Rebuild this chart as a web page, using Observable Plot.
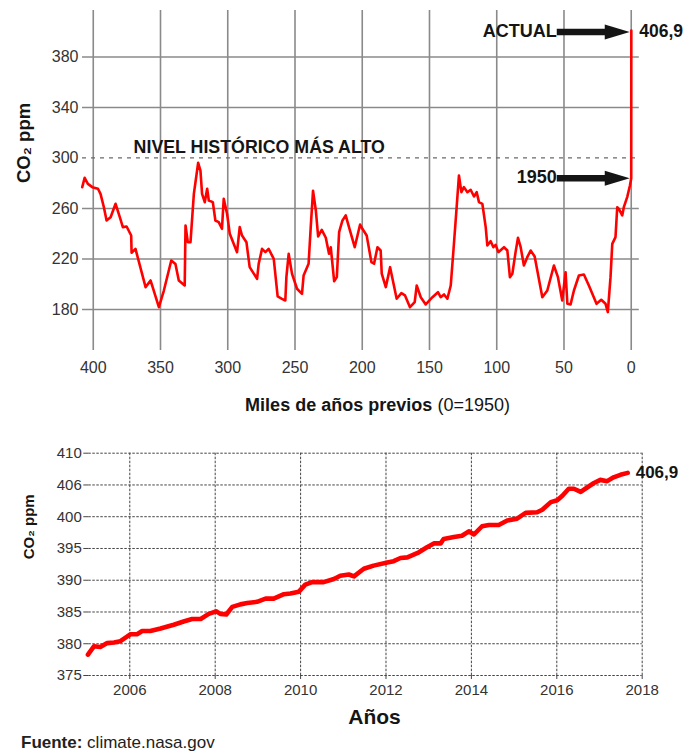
<!DOCTYPE html>
<html><head><meta charset="utf-8">
<script src="https://cdn.jsdelivr.net/npm/d3@7"></script>
<script src="https://cdn.jsdelivr.net/npm/@observablehq/plot@0.6"></script>
<style>
body{margin:0;background:#fff;font-family:"Liberation Sans",Arial,sans-serif;}
#wrap{width:684px;}
#wrap svg{display:block;}
.caption{font-size:17px;line-height:20px;color:#222;padding-left:21px;margin-top:3px;}
.caption b{color:#222;}
</style></head><body>
<div id="wrap"></div>
<script>
// ---- Top chart: ice-core CO2 (thousand years before 1950) ----
const iceAge = [408.2,406.4,404,400.7,396.5,394.6,392.1,390.1,387.1,383.4,380.2,378,375.2,371.8,371.5,368.6,361.1,357.4,351.2,347.5,342,338.9,336.4,332,331.4,329.7,327.7,325.2,322,320.3,319.1,317.1,315.3,314.1,311.1,309.2,306.7,304.3,303,300.5,298.5,293.1,291.1,289.4,286.1,283.7,278.2,277,274.5,272,269.6,265.8,262.9,259.7,257.2,256.4,254.7,252.2,248.5,244.8,243.6,239.9,238.3,236.6,234.5,232.8,230.1,227.1,224.7,223.4,220.9,218.9,217.2,214.7,212.3,209.8,205.6,201.6,199.9,196.7,193.2,191.2,188.7,186.3,185.5,182.5,179.3,174.4,170.9,168.2,164.5,161,159.5,156.5,152.8,147.8,143.7,141.7,139.2,136.7,134.2,132.2,129.8,128.1,126.3,124.4,121.8,119.4,116.9,114.9,113.2,110.7,108.2,107,104.5,102.5,100.8,98.8,94.6,92.1,90.2,88.4,86,84.2,82.2,79.8,77.3,74.8,71.8,66.1,62.4,57.5,54.5,51.3,48.8,47.5,45.1,42.6,38.9,35.2,31.5,25.8,22.3,19.1,17.4,15.4,14.1,11.7,10.4,9.2,6.7,5.5,3,1,0,-0.067];
const iceCO2 = [276.9,284.3,279.5,276.9,275.6,271.6,261,250.5,253,263.7,253,245.2,245.7,238.6,224.9,228,197.7,203,181.8,195,218.8,216,203,199,246.5,233.3,233.3,271.6,296.2,290,271.6,265,275.6,266.3,265,250.5,249.2,243.9,267.6,255.8,239.9,225.4,245.2,238.6,233.3,213.5,204.3,216.2,228,225.4,228,220.1,190.3,188.4,187.1,205.6,224.1,208.2,196.4,192.4,206.9,216.2,245.2,274,258.4,237.8,243.1,236.8,224.1,229.3,202.4,205.6,241.2,250.5,254.5,245,229.3,247.3,243.9,238.6,217.5,216.2,229.3,226.7,208.3,197.7,213.5,188.5,192.9,191.1,181.8,185.8,199,189.7,184,189.7,193.7,189.7,191.9,188.5,199,226.7,261,286.1,272.9,276.9,272.9,274.8,269.5,272.9,265,263.7,245.2,230.7,234.1,229.3,231.2,225.4,229.3,226.7,205.6,208.3,225.4,236.8,229.3,214.8,221.4,226.7,222,189.7,195,214.8,205.6,187.1,209.5,184.5,184,195,206.9,207.7,199,184.5,187.7,184.5,177.9,205.6,232,237.3,261,259.7,254.5,261,269,278,284,401];
const topXTicks = [400,350,300,250,200,150,100,50,0];
const topYTicks = [180,220,260,300,340,380];
const historicMax = 300;
const historicLabel = "NIVEL HISTÓRICO MÁS ALTO";

// ---- Bottom chart: recent CO2 (NASA) ----
const years = [2005.02,2005.16,2005.31,2005.47,2005.63,2005.78,2006.02,2006.17,2006.29,2006.48,2006.72,2007.03,2007.26,2007.46,2007.66,2007.85,2008.02,2008.12,2008.26,2008.4,2008.59,2008.75,2008.98,2009.18,2009.37,2009.61,2009.76,2009.96,2010.11,2010.27,2010.54,2010.78,2010.93,2011.13,2011.25,2011.48,2011.71,2012.03,2012.18,2012.34,2012.5,2012.77,2012.96,2013.12,2013.28,2013.35,2013.59,2013.78,2013.94,2014.06,2014.25,2014.41,2014.64,2014.84,2015.07,2015.27,2015.54,2015.66,2015.86,2016.01,2016.13,2016.28,2016.4,2016.56,2016.71,2016.87,2017.02,2017.18,2017.33,2017.49,2017.66];
const recentCO2 = [378.3,379.6,379.5,380.1,380.2,380.4,381.5,381.5,382,382,382.4,383,383.5,383.9,383.9,384.7,385.1,384.7,384.6,385.8,386.2,386.4,386.6,387.1,387.1,387.8,387.9,388.2,389.3,389.7,389.7,390.2,390.7,390.9,390.6,391.8,392.3,392.8,393,393.5,393.6,394.4,395.2,395.8,395.8,396.5,396.8,397,397.7,397.2,398.5,398.7,398.7,399.4,399.7,400.6,400.7,401.1,402.3,402.6,403.3,404.4,404.4,403.9,404.6,405.3,405.8,405.6,406.2,406.6,406.9];
const botXTicks = [2006,2008,2010,2012,2014,2016,2018];
const botYTicks = [375,380,385,390,395,400,405,410];
const botYTickLabels = ["375","380","385","390","395","400","406","410"];

const FONT = '"Liberation Sans", Arial, sans-serif';
const RED = "#ff0000";
const INK = "#151515";

const iceData = iceAge.map((t, i) => ({t, v: iceCO2[i]}));
const recentData = years.map((y, i) => ({y, v: recentCO2[i]}));
const lastRecent = recentData[recentData.length - 1];
const currentLabel = String(lastRecent.v).replace(".", ",");

const nowPoint = iceData[iceData.length - 1];
const p1950 = iceData.find(d => d.t === 0);
const arrows = [
  {label: "ACTUAL", t: 0, v: nowPoint.v - 1.3, dy: 0},
  {label: "1950", t: 0, v: p1950.v, dy: 2}
];
const arrowTail = 55, arrowNeck = 18;
const arrowHead = {
  draw(ctx) { ctx.moveTo(-25, -7.5); ctx.lineTo(0, 0); ctx.lineTo(-25, 7.5); ctx.closePath(); }
};

const topChart = Plot.plot({
  width: 684, height: 430,
  marginLeft: 82, marginRight: 45.2, marginTop: 10, marginBottom: 80,
  x: {domain: [408, -6]},
  y: {domain: [147.5, 416.8]},
  style: {fontFamily: FONT, color: "#333", background: "#fff", overflow: "visible"},
  marks: [
    Plot.ruleX(topXTicks, {stroke: "#8a8a8a", strokeWidth: 1.6}),
    Plot.ruleY(topYTicks.filter(d => d !== historicMax), {stroke: "#8a8a8a", strokeWidth: 1.6}),
    Plot.ruleY([historicMax], {stroke: "#6a6a6a", strokeWidth: 1.2, strokeDasharray: "4,5"}),
    Plot.axisX({ticks: topXTicks, tickSize: 0, tickPadding: 11, fontSize: 16, label: null, tickFormat: d => String(d)}),
    Plot.axisY({ticks: topYTicks, tickSize: 0, tickPadding: 4, fontSize: 16, label: null}),
    Plot.line(iceData, {x: "t", y: "v", stroke: RED, strokeWidth: 2.6, strokeLinejoin: "round", strokeLinecap: "round"}),
    Plot.text([historicLabel], {x: 370, y: historicMax, text: d => d, textAnchor: "start", lineAnchor: "middle", dy: -11, fontSize: 17.8, fontWeight: "bold", fill: INK}),
    Plot.ruleY(arrows, {y: "v", x1: arrowTail, x2: arrowNeck, stroke: INK, strokeWidth: 6.5}),
    Plot.dot(arrows, {x: "t", y: "v", dx: -1.5, symbol: arrowHead, fill: INK, stroke: "none"}),
    Plot.text(arrows, {x: arrowTail, y: "v", text: "label", dx: -8, dy: "dy", textAnchor: "end", lineAnchor: "middle", fontSize: 18, fontWeight: "bold", fill: INK}),
    Plot.text([currentLabel], {x: 0, y: nowPoint.v, text: d => d, dx: 8, dy: 1, textAnchor: "start", lineAnchor: "middle", fontSize: 17.5, fontWeight: "bold", fill: INK}),
    Plot.text(["CO₂ ppm"], {frameAnchor: "left", text: d => d, rotate: -90, dx: -58.5, dy: 2.5, fontSize: 18.5, fontWeight: "bold", fill: INK}),
    Plot.text(["Miles de años previos"], {frameAnchor: "bottom", text: d => d, dx: 71.3, dy: 55, textAnchor: "end", lineAnchor: "middle", fontSize: 18, fontWeight: "bold", fill: INK}),
    Plot.text(["(0=1950)"], {frameAnchor: "bottom", text: d => d, dx: 76.5, dy: 55, textAnchor: "start", lineAnchor: "middle", fontSize: 18, fill: INK})
  ]
});

const botChart = Plot.plot({
  width: 684, height: 300,
  marginLeft: 88.3, marginRight: 42.3, marginTop: 22.7, marginBottom: 55,
  x: {domain: [2005.04, 2018]},
  y: {domain: [375, 410]},
  style: {fontFamily: FONT, color: "#333", background: "#fff", overflow: "visible"},
  marks: [
    Plot.ruleY(botYTicks, {stroke: "#444", strokeWidth: 1, strokeDasharray: "2.5,1.5"}),
    Plot.ruleX(botXTicks, {stroke: "#444", strokeWidth: 1, strokeDasharray: "2.5,1.5"}),
    Plot.axisY({ticks: botYTicks, tickSize: 5, tickPadding: 2, fontSize: 15, label: null, stroke: "#444",
      tickFormat: d => botYTickLabels[botYTicks.indexOf(d)]}),
    Plot.axisX({ticks: botXTicks, tickSize: 4, tickPadding: 5, fontSize: 15, label: null, stroke: "#444", tickFormat: d => String(d)}),
    Plot.line(recentData, {x: "y", y: "v", stroke: RED, strokeWidth: 4.6, strokeLinejoin: "round", strokeLinecap: "round"}),
    Plot.text([lastRecent], {x: "y", y: "v", text: () => currentLabel, dx: 8, textAnchor: "start", lineAnchor: "middle", fontSize: 17, fontWeight: "bold", fill: INK}),
    Plot.text(["CO₂ ppm"], {frameAnchor: "left", text: d => d, rotate: -90, dx: -60, dy: -5, fontSize: 15, fontWeight: "bold", fill: INK}),
    Plot.text(["Años"], {frameAnchor: "bottom", text: d => d, dx: 9, dy: 41.7, lineAnchor: "middle", fontSize: 21, fontWeight: "bold", fill: INK})
  ]
});

const wrap = document.getElementById("wrap");
wrap.appendChild(topChart);
wrap.appendChild(botChart);
const cap = document.createElement("div");
cap.className = "caption";
cap.innerHTML = "<b>Fuente:</b> climate.nasa.gov";
wrap.appendChild(cap);
</script>
</body></html>
